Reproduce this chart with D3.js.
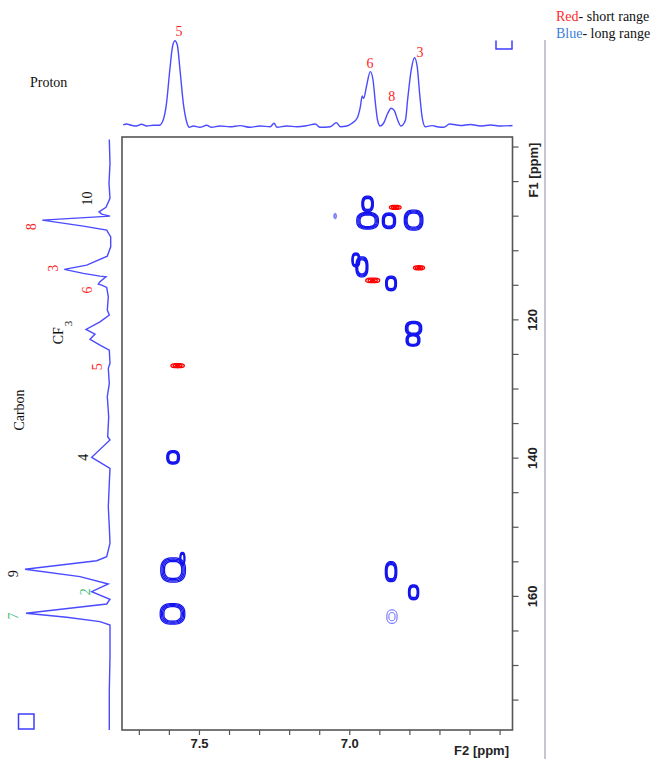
<!DOCTYPE html>
<html>
<head>
<meta charset="utf-8">
<script src="https://cdn.jsdelivr.net/npm/d3@7"></script>
<style>
  body { margin: 0; background: #fff; }
  svg { display: block; }
</style>
</head>
<body>
<svg id="chart" width="657" height="759"></svg>
<script>
// ── Data ─────────────────────────────────────────────────────────────────────

// 1D proton trace along the top: [ppm, relative intensity]
const protonTrace = [
  [7.752, 2.0], [7.741, 3.1], [7.724, 1.6], [7.708, 0.8], [7.691, 2.8], [7.674, 0.8],
  [7.652, 1.6], [7.632, 1.6], [7.619, 7.8], [7.608, 27.2], [7.597, 65.9], [7.588, 93],
  [7.580, 100], [7.572, 95], [7.563, 65.9], [7.552, 27.2], [7.541, 5.8], [7.532, -0.7],
  [7.519, 0.8], [7.497, -0.7], [7.474, 1.6], [7.458, -0.7], [7.430, 0.8], [7.397, 0],
  [7.363, 1.2], [7.330, -0.7], [7.297, 0.8], [7.263, 0], [7.250, 4.0], [7.241, -0.7],
  [7.208, 0.8], [7.174, 0], [7.141, 1.2], [7.113, 3.1], [7.097, -0.7], [7.063, 0],
  [7.043, 4.7], [7.030, 0], [7.008, 0.8], [6.991, 4.0], [6.974, 9.8], [6.963, 23.3],
  [6.957, 35.7], [6.952, 33], [6.943, 46.5], [6.930, 64], [6.921, 54.3], [6.913, 27.2],
  [6.906, 7.8], [6.897, 0.8], [6.886, 4.0], [6.872, 15.6], [6.861, 21.4], [6.850, 18.6],
  [6.839, 7.8], [6.828, 0.8], [6.813, 7.8], [6.806, 31], [6.794, 65.9], [6.783, 80.2],
  [6.774, 69.8], [6.766, 38.8], [6.757, 9.8], [6.747, 0], [6.724, 1.2], [6.708, 0],
  [6.686, -0.7], [6.666, 3.1], [6.630, 1.4], [6.597, 2.6], [6.563, 0.8], [6.530, 2.0],
  [6.497, 0.8], [6.457, 1.4]
];

// 1D carbon trace along the left: [ppm, relative intensity]
const carbonTrace = [
  [93.97, 0.7], [97.44, 0], [100.33, 1], [102.50, 0], [103.80, 4], [104.44, 11],
  [104.77, 8.3], [105.06, 0], [105.64, 67.7], [106.51, 26.7], [107.09, 3.3], [108.06, -0.7],
  [109.50, -0.7], [110.85, 2.7], [112.15, 23.3], [112.77, 45.7], [113.35, 26.7], [113.74, 10],
  [113.84, 4], [114.56, 10], [114.90, 11.7], [115.04, 8.3], [115.37, 3.3], [116.73, 1.7],
  [118.66, 2.7], [119.38, 0.7], [120.35, 10], [121.45, 24], [122.13, 15], [122.89, 20],
  [123.72, 10], [124.44, 0.7], [126.36, 0], [127.09, 1.7], [129.26, 0.7], [131.19, 2.7],
  [134.09, 1.3], [136.98, 2.3], [137.45, 0], [139.96, 18.3], [141.55, 0], [143.72, 0.7],
  [147.10, 1.7], [149.99, 0.7], [152.39, 0], [154.33, 3.3], [154.91, 13.3], [156.15, 85],
  [157.22, 30], [158.28, 1.7], [159.39, 18.3], [160.49, 0], [161.17, 3.3], [162.52, 84],
  [163.09, 43.3], [163.73, 10], [164.21, 0], [168.79, 0], [173.61, 0.7], [179.40, 0.7]
];

// Long-range cross peaks (blue): [F2 ppm, F1 ppm, half-width F2, half-width F1]
const longRangePeaks = [
  [6.939, 103.3, 0.019, 1.13], [6.939, 105.74, 0.036, 1.2], [6.868, 105.74, 0.022, 1.13],
  [6.786, 105.64, 0.031, 1.45], [6.978, 111.4, 0.013, 1.0], [6.958, 112.4, 0.02, 1.45],
  [6.861, 114.8, 0.018, 1.06], [6.786, 121.3, 0.027, 1.0], [6.788, 123.0, 0.023, 0.87],
  [7.586, 139.96, 0.021, 0.97], [7.586, 156.25, 0.041, 1.76], [7.555, 154.6, 0.008, 0.9],
  [7.588, 162.6, 0.041, 1.49], [6.861, 156.5, 0.019, 1.45], [6.786, 159.48, 0.017, 1.08]
];
// weak long-range peaks, drawn lighter
const weakPeaks = [
  [6.858, 163.0, 0.017, 0.97], [7.047, 105.06, 0.004, 0.4]
];
// Short-range (one-bond) cross peaks (red)
const shortRangePeaks = [
  [6.847, 103.8, 0.019, 0.29], [6.922, 114.36, 0.023, 0.33],
  [6.768, 112.54, 0.018, 0.29], [7.571, 126.7, 0.022, 0.29]
];

// Assignment labels: [text, ppm, intensity at label, colour]
const protonLabels = [
  ['5', 7.566, 110.6, 'red'], ['6', 6.931, 74, 'red'],
  ['8', 6.859, 35.7, 'red'], ['3', 6.765, 87.2, 'red']
];
const carbonLabels = [
  ['10', 102.5, 22.7, 'black'], ['8', 106.6, 79.3, 'red'], ['3', 112.6, 56.7, 'red'],
  ['6', 115.76, 22.7, 'red'], ['5', 126.85, 13.3, 'red'], ['4', 139.96, 26.7, 'black'],
  ['9', 156.8, 97.3, 'black'], ['2', 159.4, 25, 'green'], ['7', 162.9, 96.7, 'green']
];

// Axis ticks
const f2Ticks  = [7.7, 7.6, 7.5, 7.4, 7.3, 7.2, 7.1, 7.0, 6.9, 6.8, 6.7, 6.6, 6.5];
const f2Labels = ['7.5', '7.0'];
const f1Ticks  = [95, 100, 105, 110, 115, 120, 125, 130, 135, 140, 145, 150, 155, 160, 165, 170, 175];
const f1Labels = [120, 140, 160];

// ── Drawing ──────────────────────────────────────────────────────────────────

const COLORS = { red: '#ff2424', green: '#3cbf7a', black: '#111' };
const SERIF = '"Liberation Serif", "DejaVu Serif", serif';
const SANS  = '"Liberation Sans", Arial, sans-serif';

const svg = d3.select('#chart');

const x  = d3.scaleLinear().domain([7.756, 6.457]).range([122, 512.5]);
const y  = d3.scaleLinear().domain([93.62, 179.4]).range([137, 730]);
const yH = d3.scaleLinear().domain([0, 100]).range([126.7, 40.7]);  // proton intensity
const xC = d3.scaleLinear().domain([0, 100]).range([110, 10]);      // carbon intensity

// separator line on the right
svg.append('line')
  .attr('x1', 545).attr('x2', 545).attr('y1', 40).attr('y2', 759)
  .attr('stroke', '#c6c6ce').attr('stroke-width', 2);

// 1D traces
svg.append('path')
  .datum(protonTrace)
  .attr('d', d3.line().curve(d3.curveMonotoneX).x(d => x(d[0])).y(d => yH(d[1])))
  .attr('fill', 'none').attr('stroke', '#4a4aff').attr('stroke-width', 1.4);

svg.append('path')
  .datum(carbonTrace)
  .attr('d', d3.line().x(d => xC(d[1])).y(d => y(d[0])))
  .attr('fill', 'none').attr('stroke', '#4a4aff').attr('stroke-width', 1.4);

// little blue boxes (spectrum window markers)
svg.append('path')
  .attr('d', 'M496,40.5V49H512V40.5')
  .attr('fill', 'none').attr('stroke', '#3c3cff').attr('stroke-width', 1.5);
svg.append('rect')
  .attr('x', 18.5).attr('y', 714).attr('width', 15.5).attr('height', 15)
  .attr('fill', 'none').attr('stroke', '#3c3cff').attr('stroke-width', 1.5);

// contour rings — rounded-square superellipse outline
function ring(cx, cy, rx, ry) {
  const n = 2.6, pts = [];
  for (let i = 0; i < 48; i++) {
    const t = i / 48 * 2 * Math.PI;
    const c = Math.cos(t), s = Math.sin(t);
    pts.push([cx + rx * Math.sign(c) * Math.pow(Math.abs(c), 2 / n),
              cy + ry * Math.sign(s) * Math.pow(Math.abs(s), 2 / n)]);
  }
  return d3.line().curve(d3.curveLinearClosed)(pts);
}

function drawPeaks(peaks, levels, color, width) {
  const g = svg.append('g').attr('fill', 'none').attr('stroke', color).attr('stroke-width', width);
  peaks.forEach(([f2, f1, w2, w1]) => {
    const cx = x(f2), cy = y(f1);
    const rx = Math.abs(x(f2 + w2) - cx), ry = Math.abs(y(f1 + w1) - cy);
    levels.forEach(k => g.append('path').attr('d', ring(cx, cy, rx * k, ry * k)));
  });
}

drawPeaks(longRangePeaks, [1, 0.9, 0.8, 0.7], '#1414ee', 1.3);
drawPeaks(weakPeaks, [1, 0.6], '#5a5aff', 1);
drawPeaks(shortRangePeaks, [1, 0.65, 0.3], '#ff0000', 1.4);

// frame
svg.append('rect')
  .attr('x', x.range()[0]).attr('y', y.range()[0])
  .attr('width', x.range()[1] - x.range()[0]).attr('height', y.range()[1] - y.range()[0])
  .attr('fill', 'none').attr('stroke', '#555').attr('stroke-width', 1.6);

// bottom axis (F2)
const gx = svg.append('g')
  .attr('transform', `translate(0,${y.range()[1]})`)
  .call(d3.axisBottom(x).tickValues(f2Ticks).tickSize(5).tickSizeOuter(0)
    .tickFormat(d => f2Labels.includes(d.toFixed(1)) ? d.toFixed(1) : ''));
gx.select('.domain').remove();
gx.selectAll('line').attr('stroke', '#555').attr('stroke-width', 1.2);
gx.selectAll('text')
  .attr('y', 18).attr('dy', 0)
  .attr('font-family', SANS).attr('font-weight', 'bold').attr('font-size', 13).attr('fill', '#222');

// right axis (F1)
const gy = svg.append('g')
  .attr('transform', `translate(${x.range()[1]},0)`)
  .call(d3.axisRight(y).tickValues(f1Ticks).tickSize(6).tickSizeOuter(0)
    .tickFormat(d => f1Labels.includes(d) ? d : ''));
gy.select('.domain').remove();
gy.selectAll('line').attr('stroke', '#555').attr('stroke-width', 1.2);
gy.selectAll('text')
  .attr('transform', 'rotate(-90)')
  .attr('x', 0).attr('y', 20).attr('dy', '0.35em')
  .attr('text-anchor', 'middle')
  .attr('font-family', SANS).attr('font-weight', 'bold').attr('font-size', 13).attr('fill', '#222');

// axis titles
svg.append('text')
  .attr('transform', 'translate(537.5,170) rotate(-90)')
  .attr('text-anchor', 'middle')
  .attr('font-family', SANS).attr('font-weight', 'bold').attr('font-size', 13).attr('fill', '#222')
  .text('F1 [ppm]');
svg.append('text')
  .attr('x', 509).attr('y', 755).attr('text-anchor', 'end')
  .attr('font-family', SANS).attr('font-weight', 'bold').attr('font-size', 13).attr('fill', '#222')
  .text('F2 [ppm]');

// spectrum names
svg.append('text')
  .attr('x', 30).attr('y', 87)
  .attr('font-family', SERIF).attr('font-size', 14).attr('fill', '#111')
  .text('Proton');
svg.append('text')
  .attr('transform', 'translate(24,410) rotate(-90)')
  .attr('text-anchor', 'middle')
  .attr('font-family', SERIF).attr('font-size', 14).attr('fill', '#111')
  .text('Carbon');

// assignment labels
svg.append('g').selectAll('text')
  .data(protonLabels).enter().append('text')
  .attr('x', d => x(d[1])).attr('y', d => yH(d[2]))
  .attr('dy', '0.35em').attr('text-anchor', 'middle')
  .attr('font-family', SERIF).attr('font-size', 14)
  .attr('fill', d => COLORS[d[3]])
  .text(d => d[0]);

svg.append('g').selectAll('text')
  .data(carbonLabels).enter().append('text')
  .attr('transform', d => `translate(${xC(d[2])},${y(d[1])}) rotate(-90)`)
  .attr('dy', '0.35em').attr('text-anchor', 'middle')
  .attr('font-family', SERIF).attr('font-size', 14)
  .attr('fill', d => COLORS[d[3]])
  .text(d => d[0]);

// CF3 (with subscript)
const cf = svg.append('text')
  .attr('transform', `translate(${xC(52)},${y(123.6)}) rotate(-90)`)
  .attr('dy', '0.35em')
  .attr('font-family', SERIF).attr('font-size', 14).attr('fill', '#111');
cf.append('tspan').text('CF');
cf.append('tspan').attr('dy', 9).attr('dx', 1).attr('font-size', 11).text('3');

// legend
const leg = svg.append('g').attr('font-family', SERIF).attr('font-size', 14);
const l1 = leg.append('text').attr('x', 556).attr('y', 21);
l1.append('tspan').attr('fill', '#ff2a2a').text('Red');
l1.append('tspan').attr('fill', '#111').text('- short range');
const l2 = leg.append('text').attr('x', 556).attr('y', 38);
l2.append('tspan').attr('fill', '#3b7fd9').text('Blue');
l2.append('tspan').attr('fill', '#111').text('- long range');
</script>
</body>
</html>
